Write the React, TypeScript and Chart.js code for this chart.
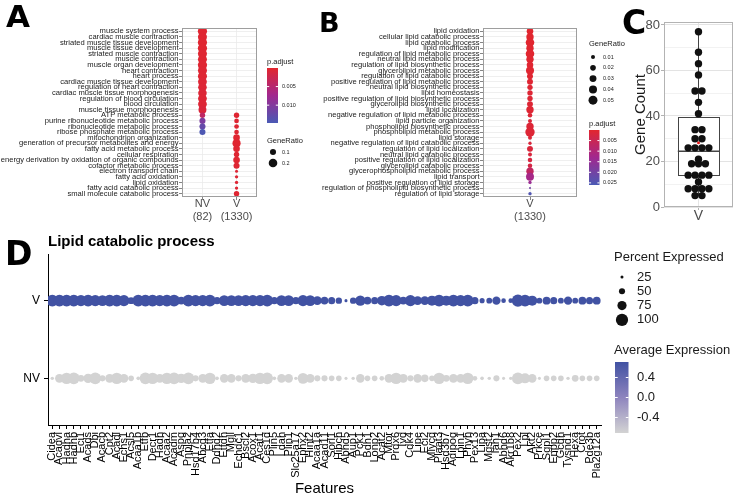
import React, { useEffect, useRef } from 'react';
import { Chart, registerables } from 'chart.js';

Chart.register(...registerables);

const FONT = "'Liberation Sans', Arial, Helvetica, sans-serif";
const LETTER_FONT = "'DejaVu Sans', 'Liberation Sans', Arial, sans-serif";
Chart.defaults.font.family = FONT;

/* ---------------- Panel A ---------------- */
const termsA = [
  'muscle system process', 'cardiac muscle contraction', 'striated muscle tissue development',
  'muscle tissue development', 'striated muscle contraction', 'muscle contraction',
  'muscle organ development', 'heart contraction', 'heart process',
  'cardiac muscle tissue development', 'regulation of heart contraction',
  'cardiac muscle tissue morphogenesis', 'regulation of blood circulation', 'blood circulation',
  'muscle tissue morphogenesis', 'ATP metabolic process', 'purine ribonucleotide metabolic process',
  'ribonucleotide metabolic process', 'ribose phosphate metabolic process', 'mitochondrion organization',
  'generation of precursor metabolites and energy', 'fatty acid metabolic process', 'cellular respiration',
  'energy derivation by oxidation of organic compounds', 'cofactor metabolic process',
  'electron transport chain', 'fatty acid oxidation', 'lipid oxidation', 'fatty acid catabolic process',
  'small molecule catabolic process',
];
const groupsA = ['NV', 'V'];
const groupSizesA = ['(82)', '(1330)'];
const geneRatioNvA = [0.23, 0.22, 0.23, 0.23, 0.22, 0.22, 0.23, 0.22, 0.22, 0.21, 0.2, 0.2, 0.21, 0.21, 0.17,
  0.08, 0.1, 0.1, 0.1, null, null, null, null, null, null, null, null, null, null, null];
const pAdjNvA = [0.0002, 0.0003, 0.0002, 0.0002, 0.0003, 0.0003, 0.0003, 0.0004, 0.0004, 0.0005, 0.0006, 0.0007,
  0.0006, 0.0006, 0.001, 0.004, 0.0105, 0.0125, 0.0145, null, null, null, null, null, null, null, null, null, null, null];
const geneRatioVA = [null, null, null, null, null, null, null, null, null, null, null, null, null, null, null,
  0.08, 0.06, 0.06, 0.06, 0.12, 0.18, 0.12, 0.08, 0.12, 0.1, 0.025, 0.03, 0.03, 0.03, 0.08];
const pAdjVA = [null, null, null, null, null, null, null, null, null, null, null, null, null, null, null,
  0.0003, 0.0004, 0.0004, 0.0004, 0.0002, 0.0002, 0.0003, 0.0004, 0.0003, 0.0004, 0.0006, 0.0005, 0.0005, 0.0005, 0.0004];
const pAdjRangeA = [0, 0.0148];
const pAdjBreaksA = [0.005, 0.01];
const pAdjLabelsA = ['0.005', '0.010'];
const ratioBreaksA = [0.1, 0.2];
const ratioLabelsA = ['0.1', '0.2'];

/* ---------------- Panel B ---------------- */
const termsB = [
  'lipid oxidation', 'cellular lipid catabolic process', 'lipid catabolic process', 'lipid modification',
  'regulation of lipid metabolic process', 'neutral lipid metabolic process',
  'regulation of lipid biosynthetic process', 'glycerolipid metabolic process',
  'regulation of lipid catabolic process', 'positive regulation of lipid metabolic process',
  'neutral lipid biosynthetic process', 'lipid homeostasis',
  'positive regulation of lipid biosynthetic process', 'glycerolipid biosynthetic process',
  'lipid localization', 'negative regulation of lipid metabolic process', 'lipid particle organization',
  'phospholipid biosynthetic process', 'phospholipid metabolic process', 'lipid storage',
  'negative regulation of lipid catabolic process', 'regulation of lipid localization',
  'neutral lipid catabolic process', 'positive regulation of lipid localization',
  'glycerolipid catabolic process', 'glycerophospholipid metabolic process', 'lipid transport',
  'positive regulation of lipid storage', 'regulation of phospholipid biosynthetic process',
  'regulation of lipid storage',
];
const groupsB = ['V'];
const groupSizesB = ['(1330)'];
const geneRatioB = [0.027, 0.034, 0.046, 0.034, 0.046, 0.034, 0.027, 0.04, 0.022, 0.022, 0.018, 0.018, 0.018,
  0.022, 0.034, 0.013, 0.01, 0.034, 0.055, 0.01, 0.007, 0.022, 0.01, 0.013, 0.013, 0.034, 0.04, 0.007, 0.0025, 0.007];
const pAdjB = [0.0002, 0.0002, 0.0002, 0.0003, 0.0003, 0.0004, 0.0005, 0.0004, 0.0006, 0.0007, 0.0008, 0.0009,
  0.001, 0.001, 0.0008, 0.0012, 0.0014, 0.0012, 0.001, 0.0015, 0.0018, 0.0018, 0.002, 0.0025, 0.003, 0.007,
  0.012, 0.014, 0.02, 0.025];
const pAdjRangeB = [0, 0.026];
const pAdjBreaksB = [0.005, 0.01, 0.015, 0.02, 0.025];
const pAdjLabelsB = ['0.005', '0.010', '0.015', '0.020', '0.025'];
const ratioBreaksB = [0.01, 0.02, 0.03, 0.04, 0.05];
const ratioLabelsB = ['0.01', '0.02', '0.03', '0.04', '0.05'];

/* ---------------- Panel C ---------------- */
const groupC = ['V'];
const geneCountC = [77, 68, 63, 58, 51, 51, 46, 41, 34, 34, 30, 30, 26, 26, 26, 26, 21, 19, 19, 19,
  14, 14, 14, 14, 11, 8, 8, 8, 8, 5, 5];
const boxStatsC = [5, 14, 24.5, 39.5, 77]; // min, q1, median, q3, max
const yTicksC = [0, 10, 20, 30, 40, 50, 60, 70, 80];

/* ---------------- Panel D ---------------- */
const genesD = ['Cidea', 'Acadvl', 'Hadha', 'Hadhb', 'Eci1', 'Acads', 'Dbi', 'Acacb', 'Cpt2', 'Acadl', 'Echs1',
  'Acsl5', 'Acaa1b', 'Etfb', 'Decr1', 'Hadh', 'Acaa2', 'Acadm', 'Aspg', 'Pnpla2', 'Hsd17b4', 'Abcd3', 'Etfa',
  'Ddhd2', 'Etfdh', 'Mgll', 'Echdc1', 'Bscl2', 'Acox1', 'Acat1', 'Ces1d', 'Plin5', 'Ldah', 'Plin1', 'Slc25a17',
  'Ephx2', 'Hint2', 'Acaa1a', 'Acad11', 'Sorl1', 'Hibch', 'Abhd5', 'Aup1', 'Pck1', 'Bdh1', 'Lonp2', 'Acat2',
  'Mtor', 'Prdx6', 'Ivd', 'Cdk4', 'Lipe', 'Eci2', 'Mlycd', 'Plaat3', 'Hsd3b7', 'Adipoq', 'Lpin1', 'Phyh',
  'Pex13', 'Lipa', 'Mgst2', 'Iah1', 'Abhd6', 'Akr1b8', 'Pex2', 'Lpl', 'Akt2', 'Prkce', 'Sgpl1', 'Enpp2',
  'Gcdh', 'Tysnd1', 'Hexa', 'Crot', 'Pde3b', 'Pla2g12a'];
const rowsD = ['NV', 'V'];
const pctExpV = [97, 97, 97, 97, 92, 97, 92, 88, 97, 97, 92, 55, 97, 97, 97, 92, 97, 97, 62, 97, 92, 92, 97, 58,
  88, 88, 88, 92, 92, 92, 97, 58, 88, 88, 58, 92, 88, 72, 62, 58, 52, 25, 52, 85,
  62, 58, 78, 97, 92, 62, 92, 72, 72, 82, 97, 82, 97, 92, 97, 58, 42, 48, 68, 38, 38, 100, 97, 82, 48, 64,
  58, 48, 68, 48, 64, 58, 64];
const pctExpNV = [28, 72, 94, 96, 55, 76, 96, 50, 72, 94, 72, 46, 30, 96, 94, 72, 94, 96, 76, 96, 50, 72, 94, 30,
  70, 70, 50, 72, 76, 94, 96, 30, 70, 70, 28, 88, 72, 50, 50, 46, 46, 25, 28, 70,
  46, 46, 38, 72, 94, 72, 50, 70, 62, 46, 94, 55, 72, 70, 94, 38, 30, 28, 50, 25, 28, 98, 82, 70, 25, 46,
  46, 46, 28, 55, 46, 46, 46];
const avgExpV = 0.71;
const avgExpNV = -0.71;
const avgExpRange = [-0.71, 0.71];
const pctBreaksD = [25, 50, 75, 100];
const avgBreaksD = [0.4, 0.0, -0.4];
const avgLabelsD = ['0.4', '0.0', '-0.4'];

/* ---------------- helpers ---------------- */
const PADJ_RAMP = ['#E2262E', '#A1288F', '#4A5AB5']; // low p (red) -> high p (blue)
const AVG_RAMP = ['#D3D3D3', '#8E84BE', '#4152A3']; // low -> high

function hexToRgb(h: string) {
  const n = parseInt(h.slice(1), 16);
  return [(n >> 16) & 255, (n >> 8) & 255, n & 255];
}
function ramp(stops: string[], t: number) {
  const tt = Math.max(0, Math.min(1, t));
  const seg = (stops.length - 1) * tt;
  const k = Math.min(Math.floor(seg), stops.length - 2);
  const f = seg - k;
  const a = hexToRgb(stops[k]);
  const b = hexToRgb(stops[k + 1]);
  return `rgb(${a.map((v, j) => Math.round(v + (b[j] - v) * f)).join(',')})`;
}
const radiusA = (g: number) => 9.6 * Math.sqrt(g);
const radiusB = (g: number) => 20 * Math.sqrt(g);
const radiusD = (pct: number) => 0.061 * pct;

function indexTicks(n: number) {
  return (scale: any) => {
    scale.ticks = Array.from({ length: n }, (_, i) => ({ value: i }));
  };
}

function drawColorbar(ctx: CanvasRenderingContext2D, x: number, y: number, w: number, h: number,
  stops: string[], topIsLow: boolean, range: number[], breaks: number[], labels: string[],
  labelX: number, font: string, color: string) {
  const grad = ctx.createLinearGradient(0, y, 0, y + h);
  stops.forEach((c, i) => {
    const pos = i / (stops.length - 1);
    grad.addColorStop(topIsLow ? pos : 1 - pos, c);
  });
  ctx.fillStyle = grad;
  ctx.fillRect(x, y, w, h);
  ctx.font = font;
  ctx.textAlign = 'left';
  ctx.textBaseline = 'middle';
  breaks.forEach((b, i) => {
    const t = (b - range[0]) / (range[1] - range[0]);
    const yy = topIsLow ? y + t * h : y + (1 - t) * h;
    ctx.strokeStyle = '#FFFFFF';
    ctx.lineWidth = 1;
    ctx.beginPath();
    ctx.moveTo(x, yy); ctx.lineTo(x + w * 0.2, yy);
    ctx.moveTo(x + w * 0.8, yy); ctx.lineTo(x + w, yy);
    ctx.stroke();
    ctx.fillStyle = color;
    ctx.fillText(labels[i], labelX, yy);
  });
}

function letter(ctx: CanvasRenderingContext2D, t: string, x: number, y: number, size: number) {
  ctx.save();
  ctx.font = `bold ${size}px ${LETTER_FONT}`;
  ctx.fillStyle = '#000';
  ctx.textAlign = 'left';
  ctx.textBaseline = 'alphabetic';
  ctx.fillText(t, x, y);
  ctx.restore();
}

function dotPlotConfig(o: any) {
  const pts: any[] = [];
  const cols: string[] = [];
  o.groups.forEach((_g: string, j: number) => {
    o.terms.forEach((_t: string, i: number) => {
      const r = o.ratios[j][i];
      const p = o.padjs[j][i];
      if (r == null || p == null) return;
      pts.push({ x: j, y: i, r: o.radius(r) });
      cols.push(ramp(PADJ_RAMP, (p - o.pRange[0]) / (o.pRange[1] - o.pRange[0])));
    });
  });
  return {
    type: 'bubble',
    data: { datasets: [{ data: pts, backgroundColor: cols, borderWidth: 0 }] },
    options: {
      animation: false,
      responsive: false,
      events: [],
      layout: { padding: { left: 0, top: o.top, right: o.padRight, bottom: 0 } },
      plugins: { legend: { display: false }, tooltip: { enabled: false } },
      scales: {
        x: {
          type: 'linear', min: -0.6, max: o.groups.length - 0.4,
          afterBuildTicks: indexTicks(o.groups.length),
          afterFit: (s: any) => { s.height = o.bottomH; },
          ticks: {
            autoSkip: false, maxRotation: 0, minRotation: 0,
            callback: (_v: any, i: number) => [o.groups[i], o.groupSizes[i]],
            font: { size: 11, family: FONT }, color: '#4D4D4D', padding: -3,
          },
          grid: { color: '#EBEBEB', lineWidth: 0.8, tickLength: 3, tickColor: '#666' },
          border: { display: false },
        },
        y: {
          type: 'linear', reverse: true, min: -0.6, max: o.terms.length - 0.4,
          afterBuildTicks: indexTicks(o.terms.length),
          afterFit: (s: any) => { s.width = o.leftW; },
          ticks: {
            autoSkip: false,
            callback: (_v: any, i: number) => o.terms[i],
            font: { size: 7.6, family: FONT }, color: '#1A1A1A', padding: 0.5,
          },
          grid: { color: '#EBEBEB', lineWidth: 0.8, tickLength: 3, tickColor: '#666' },
          border: { display: false },
        },
      },
    },
    plugins: [{
      id: 'extras',
      afterDatasetsDraw(chart: any) {
        const { ctx, chartArea: a } = chart;
        ctx.save();
        ctx.strokeStyle = '#9E9E9E';
        ctx.lineWidth = 1;
        ctx.strokeRect(Math.round(a.left) + 0.5, Math.round(a.top) + 0.5,
          Math.round(a.right - a.left) - 1, Math.round(a.bottom - a.top) - 1);
        ctx.restore();
      },
      afterDraw(chart: any) {
        const ctx = chart.ctx;
        ctx.save();
        o.drawLegend(ctx);
        ctx.restore();
      },
    }],
  };
}

function configA() {
  return dotPlotConfig({
    terms: termsA, groups: groupsA, groupSizes: groupSizesA,
    ratios: [geneRatioNvA, geneRatioVA], padjs: [pAdjNvA, pAdjVA], pRange: pAdjRangeA,
    radius: radiusA, top: 28, padRight: 58, leftW: 182, bottomH: 38,
    drawLegend: (ctx: CanvasRenderingContext2D) => {
      letter(ctx, 'A', 6, 27, 31);
      ctx.fillStyle = '#1A1A1A';
      ctx.font = `7.5px ${FONT}`;
      ctx.textAlign = 'left';
      ctx.textBaseline = 'alphabetic';
      ctx.fillText('p.adjust', 267, 64);
      drawColorbar(ctx, 267, 68, 11, 55, PADJ_RAMP, true, pAdjRangeA, pAdjBreaksA, pAdjLabelsA, 282,
        `5.5px ${FONT}`, '#1A1A1A');
      ctx.fillStyle = '#1A1A1A';
      ctx.font = `7.5px ${FONT}`;
      ctx.textBaseline = 'alphabetic';
      ctx.fillText('GeneRatio', 267, 143);
      ratioBreaksA.forEach((b, i) => {
        const y = 152 + i * 11;
        ctx.fillStyle = '#111';
        ctx.beginPath(); ctx.arc(273, y, radiusA(b), 0, Math.PI * 2); ctx.fill();
        ctx.font = `5.5px ${FONT}`;
        ctx.textBaseline = 'middle';
        ctx.fillStyle = '#1A1A1A';
        ctx.fillText(ratioLabelsA[i], 282, y);
      });
    },
  });
}

const B_LEFT = 290;
const B_WIDTH = 345;

function configB() {
  const L = B_LEFT;
  return dotPlotConfig({
    terms: termsB, groups: groupsB, groupSizes: groupSizesB,
    ratios: [geneRatioB], padjs: [pAdjB], pRange: pAdjRangeB,
    radius: radiusB, top: 28, padRight: B_WIDTH - (577 - L), leftW: 483 - L, bottomH: 38,
    drawLegend: (ctx: CanvasRenderingContext2D) => {
      letter(ctx, 'B', 319 - L, 32, 27);
      ctx.fillStyle = '#1A1A1A';
      ctx.font = `7.5px ${FONT}`;
      ctx.textAlign = 'left';
      ctx.textBaseline = 'alphabetic';
      ctx.fillText('GeneRatio', 589 - L, 46);
      ratioBreaksB.forEach((b, i) => {
        const y = 57 + i * 10.8;
        ctx.fillStyle = '#111';
        ctx.beginPath(); ctx.arc(593 - L, y, radiusB(b), 0, Math.PI * 2); ctx.fill();
        ctx.font = `5.5px ${FONT}`;
        ctx.textBaseline = 'middle';
        ctx.fillStyle = '#1A1A1A';
        ctx.fillText(ratioLabelsB[i], 603 - L, y);
      });
      ctx.fillStyle = '#1A1A1A';
      ctx.font = `7.5px ${FONT}`;
      ctx.textBaseline = 'alphabetic';
      ctx.fillText('p.adjust', 589 - L, 126);
      drawColorbar(ctx, 589 - L, 130, 10.5, 55, PADJ_RAMP, true, pAdjRangeB, pAdjBreaksB, pAdjLabelsB,
        603 - L, `5.5px ${FONT}`, '#1A1A1A');
    },
  });
}

function configC() {
  const counts = new Map<number, number>();
  geneCountC.forEach((v) => counts.set(v, (counts.get(v) || 0) + 1));
  const seen = new Map<number, number>();
  const pts = geneCountC.map((v) => {
    const n = counts.get(v) || 1;
    const j = seen.get(v) || 0;
    seen.set(v, j + 1);
    return { x: (j - (n - 1) / 2) * 0.2, y: v };
  });
  const mean = geneCountC.reduce((s, v) => s + v, 0) / geneCountC.length;
  const L = 600;
  return {
    type: 'scatter',
    data: {
      datasets: [
        { data: pts, backgroundColor: '#111', borderWidth: 0, pointRadius: 3.7 },
        { data: [{ x: 0, y: mean }], backgroundColor: '#E41A1C', borderWidth: 0, pointRadius: 1.5 },
      ],
    },
    options: {
      animation: false, responsive: false, events: [],
      layout: { padding: { left: 0, top: 22, right: 1, bottom: 0 } },
      plugins: { legend: { display: false }, tooltip: { enabled: false } },
      scales: {
        x: {
          type: 'linear', min: -1, max: 1,
          afterBuildTicks: (s: any) => { s.ticks = groupC.map((_g, i) => ({ value: i })); },
          afterFit: (s: any) => { s.height = 28; },
          ticks: { autoSkip: false, maxRotation: 0, callback: (_v: any, i: number) => groupC[i],
            font: { size: 14, family: FONT }, color: '#4D4D4D', padding: -2 },
          grid: { color: '#E5E5E5', lineWidth: 1, tickLength: 3, tickColor: '#B3B3B3' },
          border: { display: false },
        },
        y: {
          type: 'linear', min: 0, max: 81.3,
          afterBuildTicks: (s: any) => { s.ticks = yTicksC.map((v) => ({ value: v })); },
          afterFit: (s: any) => { s.width = 664 - L; },
          ticks: { autoSkip: false, callback: (v: any) => (v % 20 === 0 ? String(v) : ''),
            font: { size: 13, family: FONT }, color: '#4D4D4D', padding: 1 },
          grid: {
            color: (c: any) => (c.tick && c.tick.value % 20 !== 0 ? '#F2F2F2' : '#E3E3E3'),
            lineWidth: 1, tickLength: 3,
            tickColor: (c: any) => (c.tick && c.tick.value % 20 !== 0 ? 'rgba(0,0,0,0)' : '#B3B3B3'),
          },
          border: { display: false },
          title: { display: true, text: 'Gene Count', font: { size: 15, family: FONT }, color: '#1A1A1A',
            padding: { top: 32, bottom: 0 } },
        },
      },
    },
    plugins: [{
      id: 'box',
      beforeDatasetsDraw(chart: any) {
        const { ctx, scales } = chart;
        const xs = scales.x; const ys = scales.y;
        const [mn, q1, md, q3, mx] = boxStatsC;
        const cx = xs.getPixelForValue(0);
        const x0 = xs.getPixelForValue(-0.6); const x1 = xs.getPixelForValue(0.6);
        ctx.save();
        ctx.strokeStyle = '#444';
        ctx.lineWidth = 1;
        ctx.beginPath();
        ctx.moveTo(cx, ys.getPixelForValue(mx)); ctx.lineTo(cx, ys.getPixelForValue(q3));
        ctx.moveTo(cx, ys.getPixelForValue(q1)); ctx.lineTo(cx, ys.getPixelForValue(mn));
        ctx.stroke();
        ctx.fillStyle = '#FFFFFF';
        const yt = ys.getPixelForValue(q3); const yb = ys.getPixelForValue(q1);
        ctx.fillRect(x0, yt, x1 - x0, yb - yt);
        ctx.strokeRect(Math.round(x0) + 0.5, Math.round(yt) + 0.5, Math.round(x1 - x0), Math.round(yb - yt));
        ctx.lineWidth = 1.6;
        ctx.beginPath();
        const ym = ys.getPixelForValue(md);
        ctx.moveTo(x0, ym); ctx.lineTo(x1, ym);
        ctx.stroke();
        ctx.restore();
      },
      afterDatasetsDraw(chart: any) {
        const { ctx, chartArea: a } = chart;
        ctx.save();
        ctx.strokeStyle = '#B3B3B3';
        ctx.lineWidth = 1;
        ctx.strokeRect(Math.round(a.left) + 0.5, Math.round(a.top) + 0.5,
          Math.round(a.right - a.left) - 1, Math.round(a.bottom - a.top) - 1);
        ctx.restore();
      },
      afterDraw(chart: any) {
        letter(chart.ctx, 'C', 622 - L, 34, 33);
      },
    }],
  };
}

function configD() {
  const T = 230;
  const colV = ramp(AVG_RAMP, (avgExpV - avgExpRange[0]) / (avgExpRange[1] - avgExpRange[0]));
  const colNV = ramp(AVG_RAMP, (avgExpNV - avgExpRange[0]) / (avgExpRange[1] - avgExpRange[0]));
  return {
    type: 'bubble',
    data: {
      datasets: [
        { data: genesD.map((_g, i) => ({ x: i, y: 1, r: radiusD(pctExpV[i]) })), backgroundColor: colV, borderWidth: 0 },
        { data: genesD.map((_g, i) => ({ x: i, y: 0, r: radiusD(pctExpNV[i]) })), backgroundColor: colNV, borderWidth: 0 },
      ],
    },
    options: {
      animation: false, responsive: false, events: [],
      layout: { padding: { left: 0, top: 254 - T, right: 737 - 601, bottom: 0 } },
      plugins: { legend: { display: false }, tooltip: { enabled: false } },
      scales: {
        x: {
          type: 'linear', min: -0.6, max: genesD.length - 0.4,
          afterBuildTicks: indexTicks(genesD.length),
          afterFit: (s: any) => { s.height = 495 - 425; },
          ticks: { autoSkip: false, minRotation: 90, maxRotation: 90,
            callback: (_v: any, i: number) => genesD[i],
            font: { size: 11, family: FONT }, color: '#000', padding: 3 },
          grid: { display: true, drawOnChartArea: false, drawTicks: true, tickLength: 4, tickColor: '#000', lineWidth: 1 },
          border: { display: true, color: '#000', width: 1 },
          title: { display: true, text: 'Features', font: { size: 15, family: FONT }, color: '#000',
            padding: { top: 0, bottom: -3 } },
        },
        y: {
          type: 'linear', min: -0.6, max: 1.6,
          afterBuildTicks: indexTicks(rowsD.length),
          afterFit: (s: any) => { s.width = 48; },
          ticks: { autoSkip: false, callback: (_v: any, i: number) => rowsD[i],
            font: { size: 12, family: FONT }, color: '#000', padding: 4 },
          grid: { display: true, drawOnChartArea: false, drawTicks: true, tickLength: 4, tickColor: '#000', lineWidth: 1 },
          border: { display: true, color: '#000', width: 1 },
        },
      },
    },
    plugins: [{
      id: 'legendD',
      afterDraw(chart: any) {
        const ctx: CanvasRenderingContext2D = chart.ctx;
        ctx.save();
        letter(ctx, 'D', 5, 265 - T, 33);
        ctx.fillStyle = '#000';
        ctx.font = `bold 15px ${FONT}`;
        ctx.textAlign = 'left';
        ctx.textBaseline = 'alphabetic';
        ctx.fillText('Lipid catabolic process', 48, 246 - T);
        ctx.font = `13px ${FONT}`;
        ctx.fillStyle = '#1A1A1A';
        ctx.fillText('Percent Expressed', 614, 261 - T);
        pctBreaksD.forEach((b, i) => {
          const y = 277 - T + i * 14.3;
          ctx.fillStyle = '#111';
          ctx.beginPath(); ctx.arc(622, y, radiusD(b), 0, Math.PI * 2); ctx.fill();
          ctx.fillStyle = '#1A1A1A';
          ctx.font = `13px ${FONT}`;
          ctx.textBaseline = 'middle';
          ctx.fillText(String(b), 637, y);
        });
        ctx.textBaseline = 'alphabetic';
        ctx.fillStyle = '#1A1A1A';
        ctx.font = `13px ${FONT}`;
        ctx.fillText('Average Expression', 614, 354 - T);
        drawColorbar(ctx, 615, 362 - T, 13.5, 71, AVG_RAMP, false, avgExpRange, avgBreaksD, avgLabelsD,
          637, `13px ${FONT}`, '#1A1A1A');
        ctx.restore();
      },
    }],
  };
}

export default function App() {
  const refA = useRef<HTMLCanvasElement>(null);
  const refB = useRef<HTMLCanvasElement>(null);
  const refC = useRef<HTMLCanvasElement>(null);
  const refD = useRef<HTMLCanvasElement>(null);

  useEffect(() => {
    const charts = [
      new Chart(refD.current as HTMLCanvasElement, configD() as any),
      new Chart(refA.current as HTMLCanvasElement, configA() as any),
      new Chart(refB.current as HTMLCanvasElement, configB() as any),
      new Chart(refC.current as HTMLCanvasElement, configC() as any),
    ];
    return () => charts.forEach((c) => c.destroy());
  }, []);

  const abs = (left: number, top: number, w: number, h: number): React.CSSProperties => ({
    position: 'absolute', left, top, width: w, height: h,
  });

  return (
    <div style={{ position: 'fixed', left: 0, top: 0, width: 737, height: 495, background: '#FFFFFF', overflow: 'hidden' }}>
      <canvas ref={refD} width={737} height={265} style={abs(0, 230, 737, 265)} />
      <canvas ref={refA} width={315} height={235} style={abs(0, 0, 315, 235)} />
      <canvas ref={refB} width={B_WIDTH} height={235} style={abs(B_LEFT, 0, B_WIDTH, 235)} />
      <canvas ref={refC} width={137} height={235} style={abs(600, 0, 137, 235)} />
    </div>
  );
}
